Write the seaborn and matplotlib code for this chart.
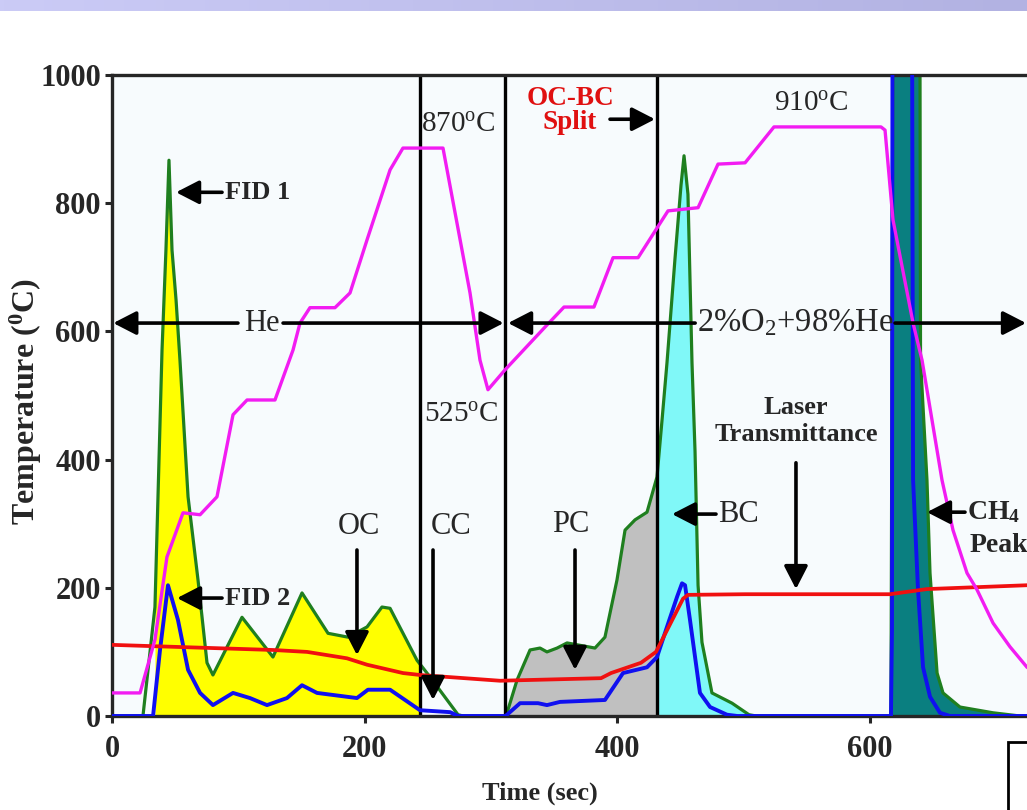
import numpy as np
import matplotlib
matplotlib.use("Agg")
import matplotlib.pyplot as plt
import seaborn as sns
from matplotlib.colors import LinearSegmentedColormap
from matplotlib.patches import Rectangle

# oven temperature (magenta)
temp_t = [0, 22.2, 34.0, 43.5, 56.2, 69.7, 83.1, 95.8, 106.9, 129.0, 143.3, 148.8,
          156.7, 176.5, 188.4, 201.9, 220.1, 230.3, 262.0, 283.4, 291.3, 297.6,
          311.1, 344.3, 357.8, 381.5, 396.6, 416.4, 440.1, 463.9, 479.7, 501.1,
          524.0, 608.7, 611.9, 618.2, 634.1, 641.2, 657.0, 665.7, 676.8, 684.7,
          697.4, 710.8, 724.3, 740.0]
temp = [36, 36, 119, 248, 317, 314, 342, 470, 493, 493, 571, 613,
        637, 637, 660, 743, 852, 886, 886, 660, 555, 509,
        540, 610, 638, 638, 715, 715, 788, 793, 861, 863,
        919, 919, 914, 774, 613, 555, 368, 290, 223, 197,
        145, 108, 76, 58]

# FID 1 signal (green)
fid1_t = [0, 24.5, 34.0, 39.6, 42.7, 45.1, 47.5, 50.7, 53.8, 60.2, 68.1, 75.2, 79.9,
          102.9, 127.4, 150.4, 171.0, 186.8, 201.9, 213.7, 220.1, 241.4, 251.7,
          273.9, 278.0, 311.1, 312.7, 320.6, 330.9, 338.8, 344.3, 352.3, 360.2,
          382.3, 390.2, 399.7, 406.1, 414.0, 423.5, 431.4, 435.4, 439.3, 445.7,
          450.4, 452.8, 455.9, 459.1, 461.5, 463.9, 467.0, 474.9, 490.8, 504.2,
          510.0, 616.6, 618.2, 639.5, 640.0, 645.1, 647.5, 653.1, 657.8, 671.2,
          697.4, 718.7, 750.0]
fid1 = [0, 0, 170, 571, 727, 867, 727, 649, 555, 342, 212, 83, 64,
        154, 92, 192, 129, 123, 139, 170, 168, 87, 61,
        2, 0, 0, 5, 56, 103, 106, 100, 106, 114,
        106, 123, 212, 290, 306, 318, 373, 462, 551, 715,
        828, 874, 814, 551, 413, 204, 115, 36, 20, 2,
        0, 0, 1100, 1100, 555, 368, 223, 67, 36, 14,
        5, 0, 0]

# FID 2 signal (blue)
fid2_t = [0, 32.5, 38.0, 44.3, 52.2, 60.2, 69.7, 79.9, 95.8, 109.2, 122.7, 138.5,
          150.4, 162.3, 193.9, 202.6, 220.1, 243.8, 267.6, 273.9, 311.1, 312.7,
          323.0, 337.2, 344.3, 354.6, 390.2, 404.5, 423.5, 431.4, 439.3, 447.3,
          451.2, 453.6, 457.5, 465.4, 473.4, 486.8, 495.0, 616.6, 617.4, 617.8,
          633.3, 634.1, 638.0, 642.0, 647.5, 655.4, 663.3, 750.0]
fid2 = [0, 0, 103, 204, 150, 72, 36, 17, 36, 28, 17, 28,
        48, 36, 28, 41, 41, 9, 6, 0, 0, 2,
        20, 20, 17, 22, 25, 67, 76, 92, 139, 186,
        207, 204, 150, 36, 14, 2, 0, 0, 134, 1100,
        1100, 368, 197, 76, 30, 5, 0, 0]

# laser transmittance (red)
laser_t = [0, 127.4, 154.4, 186.0, 201.9, 230.3, 243.8, 307.1, 387.1, 395.0,
           418.7, 430.6, 452.0, 455.9, 501.1, 615.8, 645.1, 724.3, 750.0]
laser = [111, 103, 100, 90, 80, 67, 64, 55, 59, 67,
         83, 100, 183, 189, 190, 190, 198, 204, 206]

# carbon fractions: (start, end, colour)
fractions = [(34.0, 243.8, "#ffff00"), (311.1, 431.4, "#c0c0c0"),
             (431.4, 512.0, "#80f8f8"), (616.6, 720.0, "#0a7f80")]
splits = [243.8, 311.1, 431.4]

x_ticks = [0, 200, 400, 600]
y_ticks = [0, 200, 400, 600, 800, 1000]

sns.set_style("ticks")
plt.rcParams["font.family"] = ["Liberation Serif", "DejaVu Serif"]
plt.rcParams["mathtext.fontset"] = "custom"
plt.rcParams["mathtext.rm"] = "Liberation Serif"
plt.rcParams["mathtext.bf"] = "Liberation Serif:bold"
plt.rcParams["mathtext.it"] = "Liberation Serif:italic"

fig = plt.figure(figsize=(10.27, 8.10), dpi=100, facecolor="white")

# slide header band
band = fig.add_axes([0, 1 - 11 / 810, 1, 11 / 810])
band.imshow(np.linspace(0, 1, 256)[None, :], aspect="auto",
            cmap=LinearSegmentedColormap.from_list("hdr", ["#cbcbf6", "#b2b2e2"]))
band.axis("off")

ax = fig.add_axes([112 / 1027, 94 / 810, 947.5 / 1027, 641 / 810])
ax.set_facecolor("#f7fbfd")

grid = np.linspace(0, 750, 7501)
g = np.interp(grid, fid1_t, fid1)
for lo, hi, col in fractions:
    ax.fill_between(grid, 0, g, where=(grid >= lo) & (grid <= hi), color=col, lw=0, zorder=1)

sns.lineplot(x=fid1_t, y=fid1, estimator=None, sort=False, color="#1f7f1f", lw=2.3, ax=ax, zorder=2)
for s in splits:
    ax.axvline(s, color="black", lw=2.4, zorder=2.4)
sns.lineplot(x=fid2_t, y=fid2, estimator=None, sort=False, color="#1010f0", lw=2.8, ax=ax, zorder=2.6)
sns.lineplot(x=laser_t, y=laser, estimator=None, sort=False, color="#f01010", lw=2.7, ax=ax, zorder=2.7)
sns.lineplot(x=temp_t, y=temp, estimator=None, sort=False, color="#f21cf2", lw=2.4, ax=ax, zorder=2.8)

ax.set_xlim(0, 750)
ax.set_ylim(0, 1000)
ax.set_xticks(x_ticks)
ax.set_yticks(y_ticks)
ax.tick_params(axis="both", direction="out", length=5, width=2.2, labelsize=22)
ax.tick_params(axis="x", pad=9)
ax.tick_params(axis="y", pad=3)
for lab in ax.get_xticklabels() + ax.get_yticklabels():
    lab.set_fontweight("bold")
for sp in ax.spines.values():
    sp.set_linewidth(2.4)

ax.set_xlabel("Time (sec)", fontsize=19, fontweight="bold")
ax.xaxis.set_label_coords(0.4517, -0.102)
ax.set_ylabel(r"Temperature ($^{\mathbf{0}}$C)", fontsize=23, fontweight="bold")
ax.yaxis.set_label_coords(-0.072, 0.49)


def arrow(tail, tip, style="-|>"):
    ax.annotate("", xy=tip, xytext=tail, zorder=4,
                arrowprops=dict(arrowstyle=style + ",head_length=0.7,head_width=0.36",
                                color="black", lw=2.6, mutation_scale=20,
                                shrinkA=0, shrinkB=0))


# gas phases: arrow halves on each side of the label
arrow((99.7, 613), (1.0, 613))
arrow((135.4, 613), (310.0, 613))
ax.text(118.7, 613, "He", fontsize=22, ha="center", va="center", zorder=5)
arrow((461.6, 613), (313.5, 613))
arrow((619.8, 613), (723.5, 613))
ax.text(540.6, 613, r"2%O$_2$+98%He", fontsize=23.5, ha="center", va="center", zorder=5)

# temperatures
ax.text(273.9, 922, r"870$^{\rm o}$C", fontsize=21, ha="center", va="center")
ax.text(553.3, 955, r"910$^{\rm o}$C", fontsize=21, ha="center", va="center")
ax.text(276.3, 470, r"525$^{\rm o}$C", fontsize=21, ha="center", va="center")

# split marker
ax.text(362.5, 945, "OC-BC\nSplit", fontsize=19.5, fontweight="bold", color="#e01010",
        ha="center", va="center", linespacing=0.95)
arrow((394.2, 931), (429.8, 931))

# peak labels
ax.text(89.4, 817, "FID 1", fontsize=19, fontweight="bold", ha="left", va="center")
arrow((87.1, 817), (50.7, 817))
ax.text(89.4, 184, "FID 2", fontsize=19, fontweight="bold", ha="left", va="center")
arrow((87.1, 184), (51.5, 184))

ax.text(195.5, 295, "OC", fontsize=22, ha="center", va="center")
arrow((193.9, 259), (193.9, 95))
ax.text(268.3, 295, "CC", fontsize=22, ha="center", va="center")
arrow((254.1, 259), (254.1, 25))
ax.text(363.3, 298, "PC", fontsize=22, ha="center", va="center")
arrow((366.5, 259), (366.5, 72))
ax.text(479.7, 315, "BC", fontsize=22, ha="left", va="center")
arrow((478.1, 315), (443.3, 315))

ax.text(541.4, 460, "Laser\nTransmittance", fontsize=19, fontweight="bold",
        ha="center", va="center", linespacing=1.25)
arrow((541.4, 395), (541.4, 198))

ax.text(676.8, 318, r"CH$_{\mathbf{4}}$", fontsize=20, fontweight="bold", ha="left", va="center")
ax.text(678.5, 266, "Peak", fontsize=20, fontweight="bold", ha="left", va="center")
arrow((675.2, 318), (645.1, 318))

# cut-off box at the corner of the slide
fig.patches.append(Rectangle((1008 / 1027, -0.01), 0.1, 68 / 810 + 0.01,
                             transform=fig.transFigure, fill=False, lw=2, ec="black"))

fig.savefig("out.png", dpi=100)
